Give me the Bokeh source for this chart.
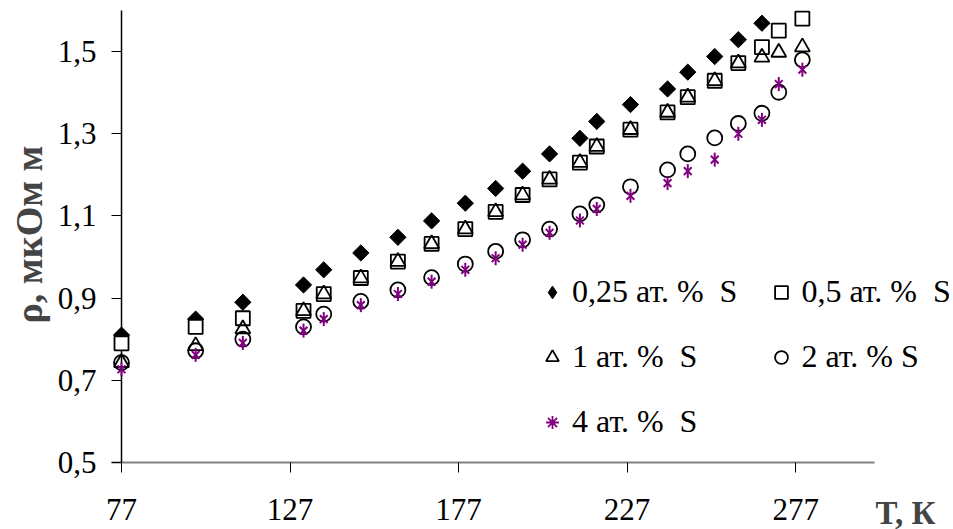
import numpy as np
from bokeh.plotting import figure
from bokeh.models import FixedTicker, Label, Range1d, Legend, LegendItem
from bokeh.embed import file_html
from bokeh.resources import INLINE

# ---- data ----
T = [77, 99, 113, 131, 137, 148, 159, 169, 179, 188, 196, 204, 213, 218,
     228, 239, 245, 253, 260, 267, 272, 279]
rho_025 = [0.810, 0.849, 0.890, 0.932, 0.969, 1.010, 1.048, 1.088, 1.131, 1.167,
           1.209, 1.251, 1.289, 1.330, 1.371, 1.409, 1.450, 1.488, 1.529, 1.569]
rho_05 = [0.790, 0.830, 0.851, 0.869, 0.910, 0.949, 0.989, 1.032, 1.068, 1.110,
          1.151, 1.189, 1.230, 1.269, 1.310, 1.352, 1.389, 1.429, 1.472, 1.511,
          1.551, 1.580]
rho_1 = [0.743, 0.784, 0.825, 0.869, 0.910, 0.949, 0.989, 1.032, 1.068, 1.110,
         1.151, 1.189, 1.230, 1.269, 1.310, 1.352, 1.389, 1.429, 1.472, 1.486,
         1.498, 1.511]
rho_2 = [0.743, 0.772, 0.800, 0.830, 0.861, 0.892, 0.920, 0.950, 0.983, 1.014,
         1.042, 1.068, 1.105, 1.127, 1.171, 1.212, 1.251, 1.290, 1.325, 1.350,
         1.401, 1.480]
rho_4 = [0.727, 0.762, 0.791, 0.821, 0.849, 0.883, 0.910, 0.940, 0.969, 0.997,
         1.030, 1.059, 1.089, 1.117, 1.149, 1.180, 1.209, 1.237, 1.300, 1.334,
         1.421, 1.456]

labels = ["0,25 ат. %  S", "0,5 ат. %  S", "1 ат. %  S", "2 ат. % S", "4 ат. %  S"]
x_ticks = [77, 127, 177, 227, 277]
y_ticks = [0.5, 0.7, 0.9, 1.1, 1.3, 1.5]
y_tick_labels = ["0,5", "0,7", "0,9", "1,1", "1,3", "1,5"]
x_title = "T, К"
y_title = "ρ, мкОм м"
x_axis_end = 300.4
y_axis_end = 1.6

FONT = "Liberation Serif"
PURPLE = "#800080"
W, H = 953, 529

# pixel geometry of the plotting area (axes cross at 77 / 0.5)
X0_PX, XEND_PX = 121, 874      # x=77 and axis end
Y0_PX, YTOP_PX = 462, 10       # y=0.5 and axis top (from top of canvas)
kx = (x_axis_end - x_ticks[0]) / (XEND_PX - X0_PX)
ky = (y_axis_end - y_ticks[0]) / (Y0_PX - YTOP_PX)
x_start = x_ticks[0] - X0_PX * kx
x_end = x_ticks[0] + (W - X0_PX) * kx
y_start = y_ticks[0] - (H - Y0_PX) * ky
y_end = y_ticks[0] + Y0_PX * ky

p = figure(width=W, height=H, output_backend="svg", toolbar_location=None,
           x_range=Range1d(x_start, x_end), y_range=Range1d(y_start, y_end),
           min_border=0)
p.outline_line_color = None
p.grid.visible = False
p.background_fill_color = "white"
p.border_fill_color = "white"

# axes (fixed inside the frame so nothing gets clipped)
xa, ya = p.xaxis[0], p.yaxis[0]
xa.fixed_location = y_ticks[0]
ya.fixed_location = x_ticks[0]
xa.bounds = (x_ticks[0] - 10 * kx, x_axis_end)
ya.bounds = (y_ticks[0], y_axis_end)
xa.ticker = FixedTicker(ticks=x_ticks)
ya.ticker = FixedTicker(ticks=y_ticks)
ya.major_label_overrides = {t: l for t, l in zip(y_ticks, y_tick_labels)}
for ax in (xa, ya):
    ax.major_label_text_font = FONT
    ax.major_label_text_font_size = "31px"
    ax.major_label_text_color = "black"
    ax.major_tick_in = 0
    ax.major_tick_out = 10
    ax.minor_tick_in = 0
    ax.minor_tick_out = 0
    ax.major_tick_line_color = "black"
    ax.major_tick_line_width = 1
xa.axis_line_color = "#808080"
xa.axis_line_width = 2
ya.axis_line_color = "black"
ya.axis_line_width = 1.5
xa.major_label_standoff = 26
ya.major_label_standoff = 15

# series
ov = dict(level="overlay")
p.scatter(T[:len(rho_025)], rho_025, marker="square", angle=np.pi / 4, size=11.5,
          fill_color="black", line_color="black", **ov)
r05 = p.scatter(T, rho_05, marker="square", size=14, fill_color="white",
                line_color="black", line_width=1.8, **ov)
r1 = p.scatter(T, rho_1, marker="triangle", size=15, fill_color=None,
               line_color="black", line_width=1.8, **ov)
r2 = p.scatter(T, rho_2, marker="circle", size=15, fill_color=None,
               line_color="black", line_width=1.8, **ov)
p.scatter(T, rho_4, marker="x", size=11, line_color=PURPLE, line_width=2, **ov)
p.scatter(T, rho_4, marker="dash", angle=np.pi / 2, size=14, line_color=PURPLE,
          line_width=2, **ov)

# legend-only glyph proxies (a single undefined point, nothing drawn in the plot)
nan = [float("nan")]
leg025 = p.scatter(nan, nan, marker="diamond", size=14, fill_color="black",
                   line_color="black")
leg4 = p.scatter(nan, nan, marker="asterisk", size=12, line_color=PURPLE,
                 line_width=1.8)

lg = Legend(items=[LegendItem(label=labels[0], renderers=[leg025]),
                   LegendItem(label=labels[1], renderers=[r05]),
                   LegendItem(label=labels[2], renderers=[r1]),
                   LegendItem(label=labels[3], renderers=[r2]),
                   LegendItem(label=labels[4], renderers=[leg4])])
lg.orientation = "horizontal"
lg.ncols = 2
lg.location = (536, 89)
lg.border_line_color = None
lg.background_fill_alpha = 0
lg.padding = 0
lg.margin = 0
lg.spacing = 28
lg.glyph_width = 32
lg.glyph_height = 32
lg.label_standoff = 4
lg.label_text_font = FONT
lg.label_text_font_size = "32px"
lg.label_text_color = "black"
p.add_layout(lg)

# axis titles
p.add_layout(Label(x=x_axis_end, y=y_ticks[0], x_offset=1, y_offset=-50, text=x_title,
                   text_font=FONT, text_font_size="33px", text_font_style="bold",
                   text_align="left", text_baseline="middle"))
p.add_layout(Label(x=x_start + 28 * kx, y=y_ticks[0] + (Y0_PX - 234) * ky,
                   text=y_title, angle=np.pi / 2, angle_units="rad",
                   text_font=FONT, text_font_size="38px", text_font_style="bold",
                   text_align="center", text_baseline="middle"))

open("out.html", "w").write(file_html(p, INLINE))
